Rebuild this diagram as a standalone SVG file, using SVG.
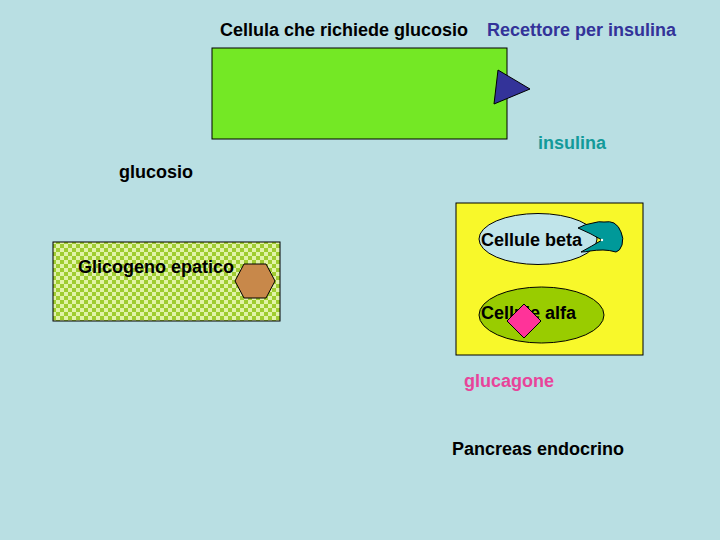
<svg xmlns="http://www.w3.org/2000/svg" width="720" height="540" viewBox="0 0 720 540">
<defs>
<style>
text{font-family:"Liberation Sans",Arial,sans-serif;font-size:18px;font-weight:bold;fill:#000}
.shape{stroke:#000;stroke-width:1}
</style>
<pattern id="chk" width="8" height="8" patternUnits="userSpaceOnUse">
<rect width="8" height="8" fill="#e2f3a8"/>
<rect width="4" height="4" fill="#9fcc30"/>
<rect x="4" y="4" width="4" height="4" fill="#9fcc30"/>
</pattern>
</defs>
<rect width="720" height="540" fill="#b9dfe3"/>
<g id="cellula">
<rect class="shape" x="212" y="48" width="295" height="91" fill="#74e825"/>
<text x="220" y="36">Cellula che richiede glucosio</text>
</g>
<g id="recettore">
<polygon class="shape" points="498,70 530,89 494,104" fill="#333399"/>
<text x="487" y="36" style="fill:#333399">Recettore per insulina</text>
</g>
<g id="insulina">
<text x="538" y="149" style="fill:#139a9a">insulina</text>
</g>
<g id="glucosio">
<text x="119" y="178">glucosio</text>
</g>
<g id="glicogeno">
<rect class="shape" x="53" y="242" width="227" height="79" fill="url(#chk)"/>
<text x="78" y="273">Glicogeno epatico</text>
<polygon class="shape" points="235,281 244,264 266,264 275,281 266,298 244,298" fill="#c8884a"/>
</g>
<g id="pancreas">
<rect class="shape" x="456" y="203" width="187" height="152" fill="#f8f82a"/>
<g id="beta">
<ellipse class="shape" cx="538" cy="239" rx="59" ry="25.5" fill="#c0e4ea"/>
<text x="481" y="246">Cellule beta</text>
<path class="shape" d="M578,228 Q585,224 593,223 Q599,221 604,222 Q610,221 614,223 Q619,226 621,232 Q624,238 622,245 Q620,251 616,252 Q609,250 603,250 Q596,250 590,251 Q585,252 581,252 Q592,246 602,240 Q590,233 578,228 Z" fill="#009999"/>
<circle cx="602" cy="240" r="1.2" fill="#fff"/>
</g>
<g id="alfa">
<ellipse class="shape" cx="541.5" cy="315" rx="62.5" ry="28" fill="#99cc00"/>
<text x="481" y="319">Cellule alfa</text>
<polygon class="shape" points="524,304 541,321 524,338 507,321" fill="#ff3399"/>
</g>
<text x="452" y="455">Pancreas endocrino</text>
</g>
<g id="glucagone">
<text x="464" y="387" style="fill:#e8449a">glucagone</text>
</g>
<g id="connectors"></g>
</svg>
